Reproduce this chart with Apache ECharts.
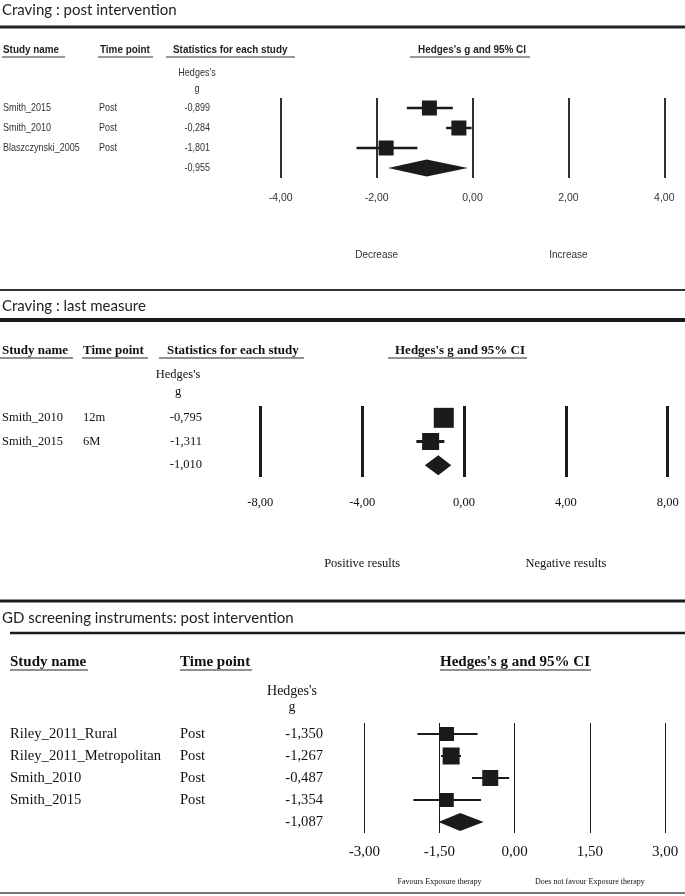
<!DOCTYPE html>
<html><head><meta charset="utf-8">
<script src="https://cdn.jsdelivr.net/npm/echarts@6/dist/echarts.min.js"></script>
<style>html,body{margin:0;padding:0;background:#fff}#c{width:685px;height:896px}</style>
</head><body><div id="c"></div>
<script>
// ---------- Panel 1: Craving : post intervention ----------
const p1Studies = ['Smith_2015', 'Smith_2010', 'Blaszczynski_2005'];
const p1Time = ['Post', 'Post', 'Post'];
const p1G = [-0.899, -0.284, -1.801];
const p1Lower = [-1.37, -0.55, -2.42];
const p1Upper = [-0.41, -0.02, -1.15];
const p1Summary = [-0.955, -1.76, -0.10];   // g, lower, upper
const p1Ticks = ['-4,00', '-2,00', '0,00', '2,00', '4,00'];
const p1Sides = ['Decrease', 'Increase'];
const p1SideAt = [-2, 2];

// ---------- Panel 2: Craving : last measure ----------
const p2Studies = ['Smith_2010', 'Smith_2015'];
const p2Time = ['12m', '6M'];
const p2G = [-0.795, -1.311];
const p2Lower = [-1.15, -1.87];
const p2Upper = [-0.44, -0.77];
const p2Summary = [-1.010, -1.54, -0.50];
const p2Ticks = ['-8,00', '-4,00', '0,00', '4,00', '8,00'];
const p2Sides = ['Positive results', 'Negative results'];
const p2SideAt = [-4, 4];

// ---------- Panel 3: GD screening instruments ----------
const p3Studies = ['Riley_2011_Rural', 'Riley_2011_Metropolitan', 'Smith_2010', 'Smith_2015'];
const p3Time = ['Post', 'Post', 'Post', 'Post'];
const p3G = [-1.350, -1.267, -0.487, -1.354];
const p3Lower = [-1.94, -1.47, -0.85, -2.02];
const p3Upper = [-0.74, -1.07, -0.11, -0.67];
const p3Summary = [-1.087, -1.52, -0.62];
const p3Ticks = ['-3,00', '-1,50', '0,00', '1,50', '3,00'];
const p3Sides = ['Favours Exposure therapy', 'Does not favour Exposure therapy'];
const p3SideAt = [-1.5, 1.5];

// ---------- styles ----------
const SANS = '"Liberation Sans", Arial, sans-serif';
const SERIF = '"Liberation Serif", "Times New Roman", serif';
const TITLE = 'Lato, "Open Sans", sans-serif';
const INK = '#1b1b1b';
const p1Box = [15, 15, 15];
const p2Box = [20, 17];
const p3Box = [14, 17, 16, 14];

const fmt = (v) => (v < 0 ? '-' : '') + Math.abs(v).toFixed(3).replace('.', ',');

function studySeries(grid, G, L, U, boxes, lw) {
  return {
    type: 'custom', xAxisIndex: grid, yAxisIndex: grid, silent: true, clip: false,
    data: G.map((g, i) => [g, L[i], U[i], i + 0.5]),
    renderItem: function (params, api) {
      const row = api.value(3);
      const c = api.coord([api.value(0), row]);
      const l = api.coord([api.value(1), row]);
      const h = api.coord([api.value(2), row]);
      const s = boxes[params.dataIndex];
      return { type: 'group', children: [
        { type: 'line', shape: { x1: l[0], y1: c[1], x2: h[0], y2: c[1] }, style: { stroke: INK, lineWidth: lw } },
        { type: 'rect', shape: { x: c[0] - s / 2, y: c[1] - s / 2, width: s, height: s }, style: { fill: INK } }
      ]};
    }
  };
}
function diamondSeries(grid, S, row, hgt) {
  return {
    type: 'custom', xAxisIndex: grid, yAxisIndex: grid, silent: true, clip: false,
    data: [[S[0], S[1], S[2], row]],
    renderItem: function (params, api) {
      const r = api.value(3);
      const c = api.coord([api.value(0), r]);
      const l = api.coord([api.value(1), r]);
      const h = api.coord([api.value(2), r]);
      return { type: 'polygon', shape: { points: [[l[0], c[1]], [c[0], c[1] - hgt / 2], [h[0], c[1]], [c[0], c[1] + hgt / 2]] }, style: { fill: INK } };
    }
  };
}
// table text (study name, time point, value) aligned to each row through the y axis
function tableSeries(grid, names, times, G, S, cols, font, color, sx) {
  const n = names.length;
  const rows = [];
  for (let i = 0; i <= n; i++) rows.push([0, i + 0.5]);
  return {
    type: 'custom', xAxisIndex: grid, yAxisIndex: grid, silent: true, clip: false,
    data: rows,
    renderItem: function (params, api) {
      const i = params.dataIndex;
      const y = api.coord([0, api.value(1)])[1];
      const ch = [];
      const mk = (t, x, al) => ({ type: 'text', x: x, y: y, scaleX: sx, style: { text: t, font: font, fill: color, textAlign: al, align: al, textVerticalAlign: 'middle', verticalAlign: 'middle' } });
      if (i < n) {
        ch.push(mk(names[i], cols[0], 'left'));
        ch.push(mk(times[i], cols[1], 'left'));
        ch.push(mk(fmt(G[i]), cols[2], 'right'));
      } else {
        ch.push(mk(fmt(S[0]), cols[2], 'right'));
      }
      return { type: 'group', children: ch };
    }
  };
}
function sideSeries(grid, labels, at, yOff, font, color) {
  return {
    type: 'custom', xAxisIndex: grid, yAxisIndex: grid, silent: true, clip: false,
    data: at.map((x) => [x, 0]),
    renderItem: function (params, api) {
      const p = api.coord([api.value(0), 0]);
      return { type: 'text', x: p[0], y: yOff, style: { text: labels[params.dataIndex], font: font, fill: color, textAlign: 'center', align: 'center', textVerticalAlign: 'middle', verticalAlign: 'middle' } };
    }
  };
}

function xAxisFor(grid, min, max, step, ticks, lw, color, font, size, margin) {
  return {
    type: 'value', gridIndex: grid, min: min, max: max, interval: step,
    axisLine: { show: false }, axisTick: { show: false },
    splitLine: { show: true, showMinLine: true, showMaxLine: true, lineStyle: { color: INK, width: lw } },
    axisLabel: { margin: margin, color: color, fontFamily: font, fontSize: size,
      formatter: (v) => ticks[Math.round((v - min) / step)] }
  };
}
function yAxisFor(grid, n) {
  return { type: 'value', gridIndex: grid, min: 0, max: n, inverse: true, show: false, splitLine: { show: false } };
}

// ---------- page furniture ----------
function T(text, x, y, font, fill, align, sx) {
  return { type: 'text', x: x, y: y, scaleX: sx || 1, silent: true,
    style: { text: text, font: font, fill: fill, textAlign: align || 'left', align: align || 'left', textVerticalAlign: 'middle', verticalAlign: 'middle' } };
}
function R(x1, x2, y, w, c) {
  return { type: 'line', silent: true, shape: { x1: x1, y1: y, x2: x2, y2: y }, style: { stroke: c, lineWidth: w } };
}
const H1 = 'bold 11px ' + SANS;
const B1 = '11px ' + SANS;
const H2 = 'bold 13px ' + SERIF;
const B2 = '12.5px ' + SERIF;
const H3 = 'bold 15px ' + SERIF;
const B3 = '14.6px ' + SERIF;
const TF = '15px ' + TITLE;

const graphics = [
  T('Craving : post intervention', 2, 10, TF, '#222'),
  R(0, 685, 27, 3, '#222'),
  T('Study name', 3, 50, H1, '#222', 'left', 0.9),
  T('Time point', 100, 50, H1, '#222', 'left', 0.9),
  T('Statistics for each study', 173, 50, H1, '#222', 'left', 0.9),
  T("Hedges's g and 95% CI", 418, 50, H1, '#222', 'left', 0.9),
  R(2, 65, 57, 1, '#333'), R(98, 153, 57, 1, '#333'), R(166, 295, 57, 1, '#333'), R(410, 530, 57, 1, '#333'),
  T("Hedges's", 197, 73, B1, '#333', 'center', 0.82),
  T('g', 197, 89, B1, '#333', 'center', 0.82),

  R(0, 685, 290, 2, '#333'),
  T('Craving : last measure', 2, 306, TF, '#222'),
  R(0, 685, 320, 4, '#1a1a1a'),
  T('Study name', 2, 351, H2, '#111'),
  T('Time point', 83, 351, H2, '#111'),
  T('Statistics for each study', 167, 351, H2, '#111'),
  T("Hedges's g and 95% CI", 395, 351, H2, '#111'),
  R(0, 73, 358, 1, '#222'), R(82, 148, 358, 1, '#222'), R(159, 304, 358, 1, '#222'), R(388, 527, 358, 1, '#222'),
  T("Hedges's", 178, 375, B2, '#111', 'center'),
  T('g', 178, 392, B2, '#111', 'center'),

  R(0, 685, 601, 3, '#1a1a1a'),
  T('GD screening instruments: post intervention', 2, 618, TF, '#222'),
  R(10, 685, 633, 2.5, '#1a1a1a'),
  T('Study name', 10, 662, H3, '#111'),
  T('Time point', 180, 662, H3, '#111'),
  T("Hedges's g and 95% CI", 440, 662, H3, '#111'),
  R(10, 88, 670, 1, '#222'), R(180, 252, 670, 1, '#222'), R(440, 591, 670, 1, '#222'),
  T("Hedges's", 292, 691, '14px ' + SERIF, '#111', 'center'),
  T('g', 292, 707, '14px ' + SERIF, '#111', 'center'),
  R(0, 685, 893, 2, '#777')
];

const chart = echarts.init(document.getElementById('c'), null, { renderer: 'canvas' });
chart.setOption({
  animation: false,
  backgroundColor: '#fff',
  grid: [
    { left: 280.7, width: 383.6, top: 98, height: 80 },
    { left: 260.3, width: 407.4, top: 406, height: 71 },
    { left: 364.3, width: 300.7, top: 723, height: 110 }
  ],
  xAxis: [
    xAxisFor(0, -4, 4, 2, p1Ticks, 1.8, '#333', SANS, 10.5, 15),
    xAxisFor(1, -8, 8, 4, p2Ticks, 3, '#111', SERIF, 12.5, 19),
    xAxisFor(2, -3, 3, 1.5, p3Ticks, 1, '#111', SERIF, 15, 12)
  ],
  yAxis: [yAxisFor(0, 4), yAxisFor(1, 3), yAxisFor(2, 5)],
  graphic: graphics,
  series: [
    studySeries(0, p1G, p1Lower, p1Upper, p1Box, 2.5),
    diamondSeries(0, p1Summary, 3.5, 17),
    tableSeries(0, p1Studies, p1Time, p1G, p1Summary, [3, 99, 210], B1, '#333', 0.82),
    sideSeries(0, p1Sides, p1SideAt, 255, '10px ' + SANS, '#333'),

    studySeries(1, p2G, p2Lower, p2Upper, p2Box, 3),
    diamondSeries(1, p2Summary, 2.5, 20),
    tableSeries(1, p2Studies, p2Time, p2G, p2Summary, [2, 83, 202], B2, '#111', 1),
    sideSeries(1, p2Sides, p2SideAt, 564, '12.5px ' + SERIF, '#111'),

    studySeries(2, p3G, p3Lower, p3Upper, p3Box, 2),
    diamondSeries(2, p3Summary, 4.5, 18),
    tableSeries(2, p3Studies, p3Time, p3G, p3Summary, [10, 180, 323], B3, '#111', 1),
    sideSeries(2, p3Sides, p3SideAt, 882, '8px ' + SERIF, '#111')
  ]
});
</script></body></html>
